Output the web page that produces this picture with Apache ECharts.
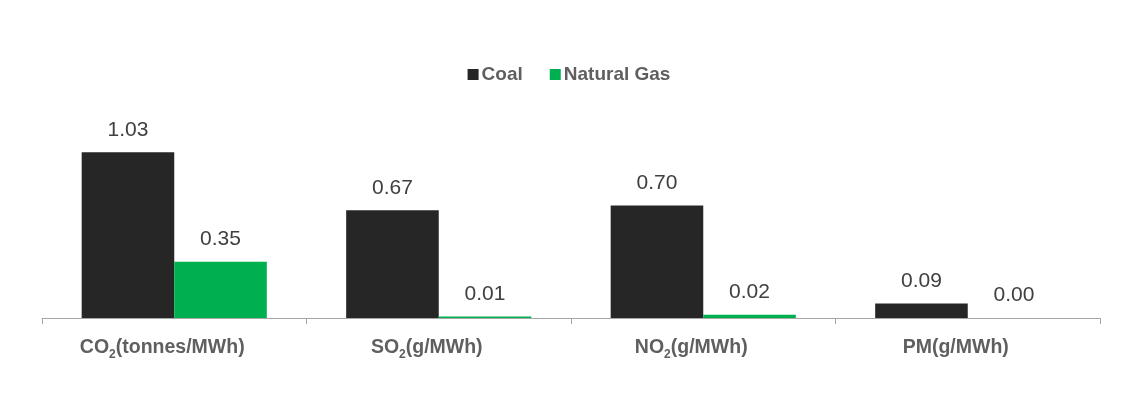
<!DOCTYPE html>
<html>
<head>
<meta charset="utf-8">
<script src="https://cdn.jsdelivr.net/npm/echarts@6/dist/echarts.min.js"></script>
<style>
html,body{margin:0;padding:0;background:#fff;}
#chart{width:1138px;height:416px;}
</style>
</head>
<body>
<div id="chart"></div>
<script>
const categories = ['{a|CO}{s|2}{a|(tonnes/MWh)}', '{a|SO}{s|2}{a|(g/MWh)}', '{a|NO}{s|2}{a|(g/MWh)}', '{a|PM(g/MWh)}'];
const coalValues = [1.03, 0.67, 0.70, 0.09];
const gasValues = [0.35, 0.01, 0.02, 0.00];
const seriesNames = ['Coal', 'Natural Gas'];

const FF = 'Liberation Sans, Arial, sans-serif';
const chart = echarts.init(document.getElementById('chart'));
const labelStyle = {
  show: true, position: 'top', distance: 12,
  fontFamily: FF, fontSize: 21, color: '#404040',
  formatter: p => p.value.toFixed(2)
};
chart.setOption({
  animation: false,
  legend: {
    top: 60, left: 'center',
    itemWidth: 11, itemHeight: 11, itemGap: 27, icon: 'rect',
    textStyle: { fontFamily: FF, fontSize: 19, fontWeight: 'bold', color: '#5f5f5f', padding: [0,0,0,-2] },
    data: seriesNames
  },
  grid: { left: 42, right: 38, top: 125, bottom: 98, containLabel: false },
  xAxis: {
    type: 'category', data: categories,
    axisLine: { lineStyle: { color: '#a6a6a6', width: 1 } },
    axisTick: { show: true, length: 6, lineStyle: { color: '#a6a6a6' } },
    axisLabel: {
      margin: 18,
      padding: [0, 24, 0, 0],
      rich: {
        a: { fontFamily: FF, fontSize: 19.5, fontWeight: 'bold', color: '#5f5f5f', lineHeight: 24, verticalAlign: 'middle' },
        s: { fontFamily: FF, fontSize: 12, fontWeight: 'bold', color: '#5f5f5f', lineHeight: 24, padding: [13, 0, 0, 0] }
      }
    }
  },
  yAxis: { type: 'value', min: 0, max: 1.2, show: false, splitLine: { show: false } },
  series: [
    { name: seriesNames[0], type: 'bar', data: coalValues, barGap: '0%', barCategoryGap: '30%',
      itemStyle: { color: '#262626' }, label: labelStyle },
    { name: seriesNames[1], type: 'bar', data: gasValues,
      itemStyle: { color: '#00B050' }, label: labelStyle }
  ]
});
</script>
</body>
</html>
